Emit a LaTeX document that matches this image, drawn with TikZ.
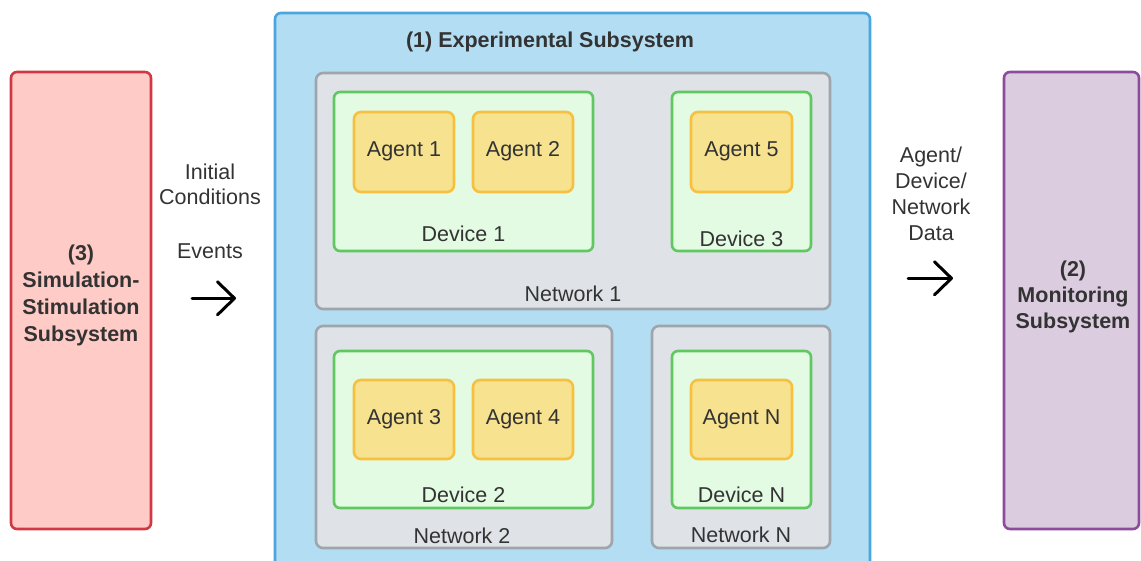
\documentclass[tikz,border=0pt]{standalone}
\usepackage{fontspec}
\setmainfont{Liberation Sans}
\usetikzlibrary{arrows.meta}

\definecolor{txt}{HTML}{333333}
\definecolor{simfill}{HTML}{FFCBC6}
\definecolor{simline}{HTML}{D03942}
\definecolor{expfill}{HTML}{B3DDF2}
\definecolor{expline}{HTML}{4BA6DF}
\definecolor{netfill}{HTML}{DFE3E8}
\definecolor{netline}{HTML}{9FA5AC}
\definecolor{devfill}{HTML}{E3FAE3}
\definecolor{devline}{HTML}{5FC85F}
\definecolor{agfill}{HTML}{F6E28F}
\definecolor{agline}{HTML}{F8C040}
\definecolor{monfill}{HTML}{DCCCE0}
\definecolor{monline}{HTML}{8C4B9B}

\tikzset{
  basebox/.style={draw, line width=2.6pt, inner sep=0pt, outer sep=0pt},
  simbox/.style={basebox, rounded corners=6pt, fill=simfill, draw=simline},
  monbox/.style={basebox, rounded corners=6pt, fill=monfill, draw=monline},
  expbox/.style={basebox, rounded corners=6pt, fill=expfill, draw=expline},
  netbox/.style={basebox, rounded corners=7pt, fill=netfill, draw=netline},
  devbox/.style={basebox, rounded corners=6pt, fill=devfill, draw=devline},
  agbox/.style={basebox, rounded corners=7pt, fill=agfill, draw=agline},
  lbl/.style={text=txt, inner sep=0pt, anchor=base, font=\fontsize{21.5}{25}\selectfont},
  blbl/.style={lbl, font=\fontsize{21.5}{27}\selectfont\bfseries},
  flow/.style={line width=3pt, line cap=round, line join=round,
    -{Straight Barb[length=17pt,width=33pt,line cap=round,line join=round]}},
}

\begin{document}
\begin{tikzpicture}[x=1pt, y=-1pt]
  \useasboundingbox (0,0) rectangle (1141,560);
  \clip (0,0) rectangle (1141,560);

  % (3) Simulation-Stimulation subsystem (multi-line labels sit on their last baseline)
  \node[simbox, minimum width=140, minimum height=457] (sim) at (81,300.5) {};
  \node[blbl, align=center] (simtxt) at (81,341.7)
    {(3)\\Simulation-\\Stimulation\\Subsystem};

  % (2) Monitoring subsystem
  \node[monbox, minimum width=135, minimum height=457] (mon) at (1071.5,300.5) {};
  \node[blbl, align=center, font=\fontsize{21.5}{26}\selectfont\bfseries] (montxt) at (1073,328)
    {(2)\\Monitoring\\Subsystem};

  % (1) Experimental subsystem
  \node[expbox, minimum width=595, minimum height=567] (exp) at (572.5,296.5) {};
  \node[blbl] (exptxt) at (550,47.7) {(1) Experimental Subsystem};

  % Networks
  \node[netbox, minimum width=514, minimum height=236] (net1) at (573,191) {};
  \node[netbox, minimum width=296, minimum height=222] (net2) at (464,437) {};
  \node[netbox, minimum width=178, minimum height=222] (netN) at (741,437) {};
  \node[lbl] (net1txt) at (573,301.7) {Network 1};
  \node[lbl] (net2txt) at (462,543) {Network 2};
  \node[lbl] (netNtxt) at (741,542) {Network N};

  % Devices
  \node[devbox, minimum width=259, minimum height=159] (dev1) at (463.5,171.5) {};
  \node[devbox, minimum width=139, minimum height=159] (dev3) at (741.5,171.5) {};
  \node[devbox, minimum width=259, minimum height=157] (dev2) at (463.5,429.5) {};
  \node[devbox, minimum width=139, minimum height=157] (devN) at (741.5,429.5) {};
  \node[lbl] (dev1txt) at (463.5,241.7) {Device 1};
  \node[lbl] (dev3txt) at (741.5,246) {Device 3};
  \node[lbl] (dev2txt) at (463.5,502) {Device 2};
  \node[lbl] (devNtxt) at (741.5,502) {Device N};

  % Agents
  \node[agbox, minimum width=100, minimum height=80] (ag1) at (404,152) {};
  \node[agbox, minimum width=100, minimum height=80] (ag2) at (523,152) {};
  \node[agbox, minimum width=101, minimum height=80] (ag5) at (741.5,152) {};
  \node[agbox, minimum width=100, minimum height=79] (ag3) at (404,419.5) {};
  \node[agbox, minimum width=100, minimum height=79] (ag4) at (523,419.5) {};
  \node[agbox, minimum width=101, minimum height=79] (agN) at (741.5,419.5) {};
  \node[lbl] (ag1txt) at (404,156.5) {Agent 1};
  \node[lbl] (ag2txt) at (523,156.5) {Agent 2};
  \node[lbl] (ag5txt) at (741.5,156.5) {Agent 5};
  \node[lbl] (ag3txt) at (404,424.3) {Agent 3};
  \node[lbl] (ag4txt) at (523,424.3) {Agent 4};
  \node[lbl] (agNtxt) at (741.5,424.3) {Agent N};

  % Inputs into the experimental subsystem
  \node[lbl, align=center] (initc) at (210,204) {Initial\\Conditions};
  \node[lbl] (events) at (210,258.3) {Events};
  \coordinate (inA) at (192,298.3);
  \coordinate (inB) at (236,298.3);
  \draw[flow] (inA) -- (inB);

  % Data flowing out to monitoring
  \node[lbl, align=center, font=\fontsize{21.5}{25.8}\selectfont] (outdata) at (931,240)
    {Agent/\\Device/\\Network\\Data};
  \coordinate (outA) at (908,278.3);
  \coordinate (outB) at (953,278.3);
  \draw[flow] (outA) -- (outB);
\end{tikzpicture}
\end{document}
